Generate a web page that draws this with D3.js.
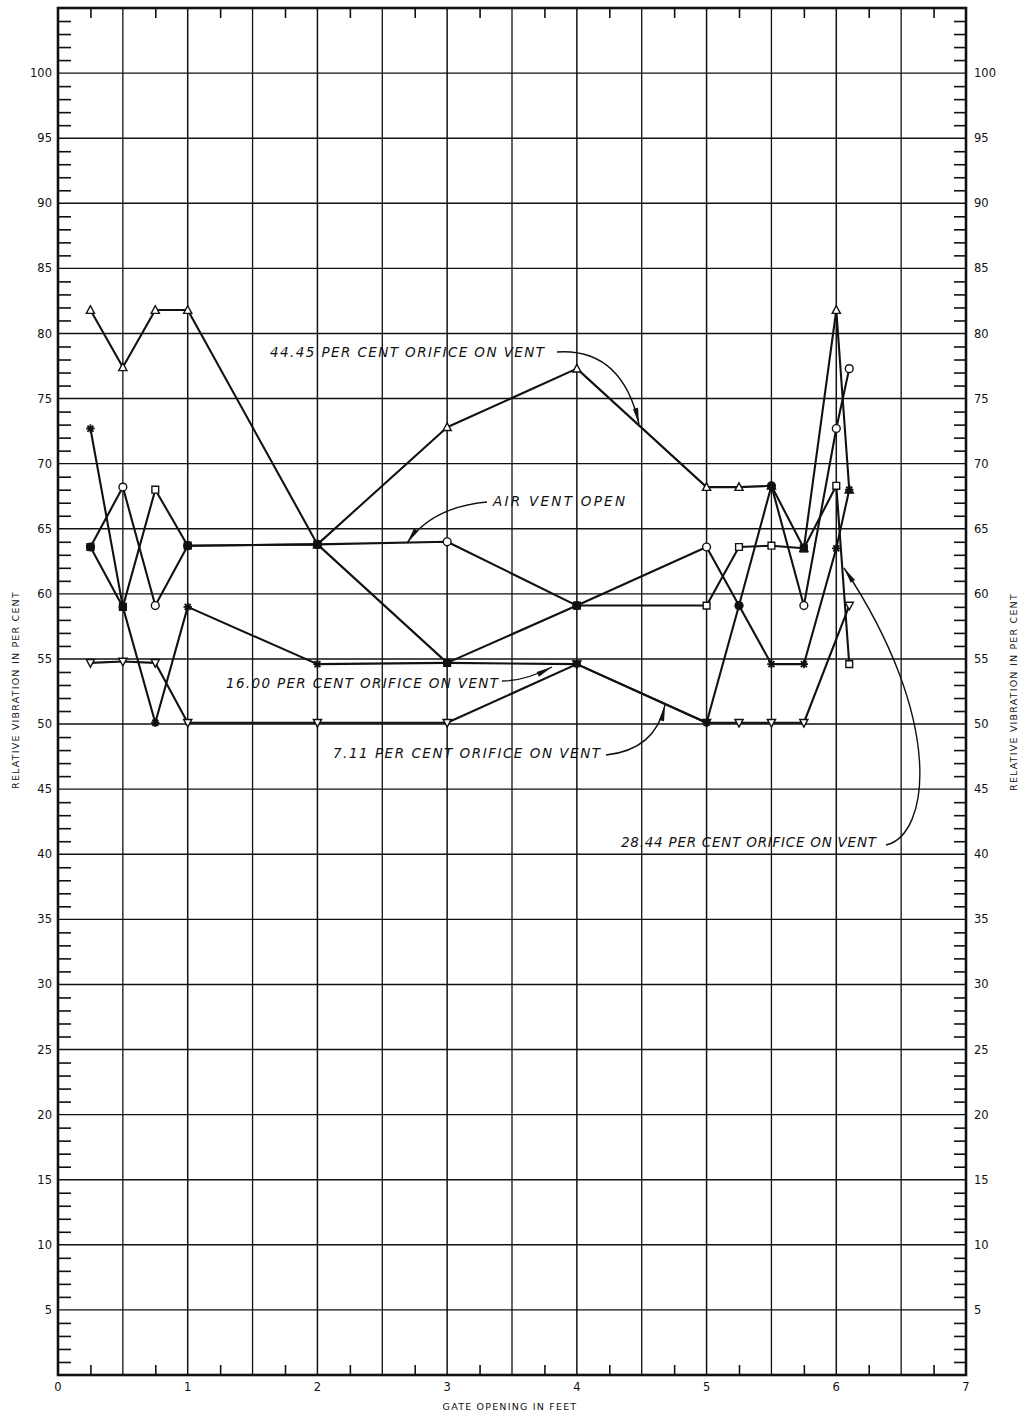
<!DOCTYPE html>
<html>
<head>
<meta charset="utf-8">
<script src="https://cdn.jsdelivr.net/npm/d3@7/dist/d3.min.js"></script>
<style>
  html, body { margin: 0; padding: 0; background: #fff; }
  svg { display: block; }
  text { font-family: "DejaVu Sans", "Liberation Sans", sans-serif; fill: #111; }
</style>
</head>
<body>
<svg id="chart" width="1022" height="1419"></svg>
<script>
// ---------------- DATA ----------------
const gateOpening = [0.25, 0.5, 0.75, 1, 2, 3, 4, 5, 5.25, 5.5, 5.75, 6, 6.1];

const orifice4445 = [81.8, 77.4, 81.8, 81.8, 63.8, 72.8, 77.3, 68.2, 68.2, 68.3, 63.5, 81.8, 68.0];
const airVentOpen = [63.6, 68.2, 59.1, 63.7, 63.8, 64.0, 59.1, 63.6, 59.1, 68.3, 59.1, 72.7, 77.3];
const orifice2844 = [63.6, 59.0, 68.0, 63.7, 63.8, 54.7, 59.1, 59.1, 63.6, 63.7, 63.5, 68.3, 54.6];
const orifice1600 = [72.7, 59.0, 50.1, 59.0, 54.6, 54.7, 54.6, 50.1, 59.1, 54.6, 54.6, 63.5, 68.0];
const orifice711  = [54.7, 54.8, 54.7, 50.1, 50.1, 50.1, 54.6, 50.1, 50.1, 50.1, 50.1, null, 59.1];

const seriesNames  = ["44.45 PER CENT ORIFICE ON VENT", "AIR VENT OPEN", "28.44 PER CENT ORIFICE ON VENT",
                      "16.00 PER CENT ORIFICE ON VENT", "7.11 PER CENT ORIFICE ON VENT"];
const seriesValues = [orifice4445, airVentOpen, orifice2844, orifice1600, orifice711];
const seriesMarker = ["triangle", "circle", "square", "star", "invTriangle"];

const xTickLabels = [0, 1, 2, 3, 4, 5, 6, 7];
const yTickLabels = [5, 10, 15, 20, 25, 30, 35, 40, 45, 50, 55, 60, 65, 70, 75, 80, 85, 90, 95, 100];
const xAxisTitle = "GATE  OPENING  IN  FEET";
const yAxisTitle = "RELATIVE  VIBRATION  IN  PER  CENT";

// ---------------- LAYOUT ----------------
const svg = d3.select("#chart");
const L = 58, R = 966, T = 8, B = 1375;
const x = d3.scaleLinear().domain([0, 7]).range([L, R]);
const y = d3.scaleLinear().domain([0, 105]).range([B, T]);
const ink = "#111";

// grid
const g = svg.append("g");
const vGrid = d3.range(0.5, 7, 0.5);
g.selectAll("line.vg").data(vGrid).enter().append("line")
  .attr("x1", d => x(d)).attr("x2", d => x(d)).attr("y1", T).attr("y2", B)
  .attr("stroke", ink).attr("stroke-width", d => Number.isInteger(d) ? 1.5 : 1.3);
const hGrid = d3.range(5, 105, 5);
g.selectAll("line.hg").data(hGrid).enter().append("line")
  .attr("x1", L).attr("x2", R).attr("y1", d => y(d)).attr("y2", d => y(d))
  .attr("stroke", ink).attr("stroke-width", 1.4);

// minor ticks on all four edges (drawn with d3 axes, inward)
const minorY = d3.range(1, 105, 1).filter(v => v % 5 !== 0);
const minorX = d3.range(0.25, 7, 0.5);
function styleAxis(sel) {
  sel.select(".domain").remove();
  sel.selectAll(".tick line").attr("stroke", ink).attr("stroke-width", 1.6);
}
svg.append("g").attr("transform", `translate(${L},0)`)
  .call(d3.axisRight(y).tickValues(minorY).tickSize(13).tickFormat(""))
  .call(styleAxis);
svg.append("g").attr("transform", `translate(${R},0)`)
  .call(d3.axisLeft(y).tickValues(minorY).tickSize(12).tickFormat(""))
  .call(styleAxis);
svg.append("g").attr("transform", `translate(0,${B})`)
  .call(d3.axisTop(x).tickValues(minorX).tickSize(10).tickFormat(""))
  .call(styleAxis);
svg.append("g").attr("transform", `translate(0,${T})`)
  .call(d3.axisBottom(x).tickValues(minorX).tickSize(10).tickFormat(""))
  .call(styleAxis);

// frame
svg.append("rect").attr("x", L).attr("y", T).attr("width", R - L).attr("height", B - T)
  .attr("fill", "none").attr("stroke", ink).attr("stroke-width", 2.6);

// tick labels
const lbl = svg.append("g").attr("font-size", 11.5);
lbl.selectAll("text.yl").data(yTickLabels).enter().append("text")
  .attr("x", L - 6).attr("y", d => y(d)).attr("dy", "0.35em").attr("text-anchor", "end").text(d => d);
lbl.selectAll("text.yr").data(yTickLabels).enter().append("text")
  .attr("x", R + 8).attr("y", d => y(d)).attr("dy", "0.35em").attr("text-anchor", "start").text(d => d);
lbl.selectAll("text.xl").data(xTickLabels).enter().append("text")
  .attr("x", d => x(d)).attr("y", B + 12).attr("dy", "0.35em").attr("text-anchor", "middle").text(d => d);

// axis titles
svg.append("text").attr("x", 510).attr("y", 1410).attr("text-anchor", "middle")
  .attr("font-size", 9.5).attr("letter-spacing", 1.2).text(xAxisTitle);
svg.append("text").attr("transform", "translate(19,690) rotate(-90)").attr("text-anchor", "middle")
  .attr("font-size", 9.5).attr("letter-spacing", 1.2).text(yAxisTitle);
svg.append("text").attr("transform", "translate(1017,692) rotate(-90)").attr("text-anchor", "middle")
  .attr("font-size", 9.5).attr("letter-spacing", 1.2).text(yAxisTitle);

// ---------------- SERIES ----------------
const line = d3.line().x(d => x(d.x)).y(d => y(d.v));
const series = seriesValues.map((vals, i) => ({
  name: seriesNames[i], marker: seriesMarker[i],
  pts: vals.map((v, j) => ({ x: gateOpening[j], v })).filter(p => p.v != null)
}));

svg.append("g").selectAll("path").data(series).enter().append("path")
  .attr("d", d => line(d.pts)).attr("fill", "none")
  .attr("stroke", ink).attr("stroke-width", 2.1).attr("stroke-linejoin", "round");

// points shared by several series are inked solid
function shared(si, p) {
  return series.some((s, k) => k !== si && s.pts.some(q => q.x === p.x && Math.abs(q.v - p.v) < 0.35));
}
function markerPath(type) {
  const r = 3.8;
  if (type === "circle") return d3.symbol(d3.symbolCircle, 48)();
  if (type === "square") return d3.symbol(d3.symbolSquare, 46)();
  if (type === "triangle") return `M0,${-r - 0.5}L${r + 0.3},${r - 0.5}L${-r - 0.3},${r - 0.5}Z`;
  if (type === "invTriangle") return `M0,${r + 0.5}L${r + 0.3},${-r + 0.5}L${-r - 0.3},${-r + 0.5}Z`;
  // asterisk
  const a = 4.2, b = 3.0;
  return `M${-a},0L${a},0M${-b},${-b}L${b},${b}M${-b},${b}L${b},${-b}M0,${-a}L0,${a}`;
}
series.forEach((s, si) => {
  svg.append("g").selectAll("path").data(s.pts).enter().append("path")
    .attr("transform", p => `translate(${x(p.x)},${y(p.v)})`)
    .attr("d", markerPath(s.marker))
    .attr("fill", p => s.marker === "star" ? "none" : (shared(si, p) ? ink : "#fff"))
    .attr("stroke", ink).attr("stroke-width", s.marker === "star" ? 1.8 : 1.4);
});

// ---------------- ANNOTATIONS ----------------
const ann = svg.append("g");
function arrow(d, tip, from) {
  ann.append("path").attr("d", d).attr("fill", "none").attr("stroke", ink).attr("stroke-width", 1.4);
  const ang = Math.atan2(tip[1] - from[1], tip[0] - from[0]);
  const len = 16, w = 2.6;
  const bx = tip[0] - len * Math.cos(ang), by = tip[1] - len * Math.sin(ang);
  const px = -Math.sin(ang) * w, py = Math.cos(ang) * w;
  ann.append("path")
    .attr("d", `M${tip[0]},${tip[1]}L${bx + px},${by + py}L${bx - px},${by - py}Z`)
    .attr("fill", ink);
}
function label(t, xx, yy, w) {
  ann.append("text").attr("x", xx).attr("y", yy).attr("font-size", 13.5)
    .attr("font-style", "italic").attr("textLength", w).attr("lengthAdjust", "spacing").text(t);
}
label(seriesNames[0], 270, 357, 274);
arrow("M557,352 Q622,348 639,424", [639, 424], [622, 348]);

label(seriesNames[1], 493, 506, 132);
arrow("M487,502 Q432,507 407,543", [407, 543], [432, 507]);

label(seriesNames[3], 226, 688, 272);
arrow("M502,681 Q525,681 552,667", [552, 667], [525, 681]);

label(seriesNames[4], 333, 758, 267);
arrow("M606,755 Q655,750 665,705", [665, 705], [655, 750]);

label(seriesNames[2], 621, 847, 255);
arrow("M886,845 C930,835 945,720 844,568", [844, 568], [945, 720]);
</script>
</body>
</html>
